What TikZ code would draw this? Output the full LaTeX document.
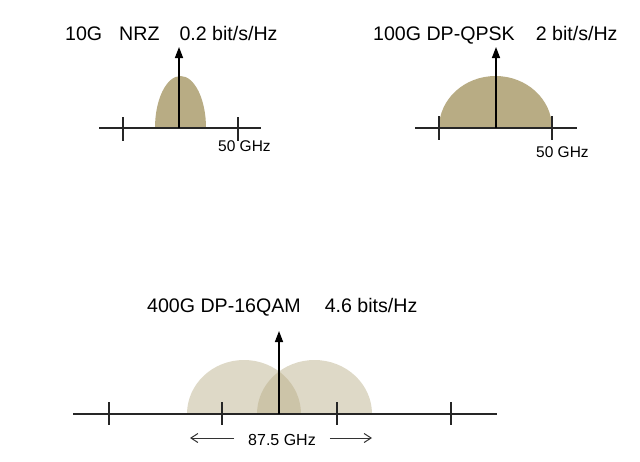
\documentclass[tikz,border=0pt]{standalone}
\usepackage{fontspec}
\setmainfont{Liberation Sans}
\usetikzlibrary{positioning,arrows.meta}
\definecolor{hump}{RGB}{184,172,132}

\begin{document}
\begin{tikzpicture}[x=1pt,y=-1pt,
  axis/.style={draw=black!85, line width=1.1pt},
  carrier/.style={draw=black, line width=1.4pt, -{Triangle[width=8pt,length=11pt]}},
  title/.style={font=\fontsize{19.6}{23}\selectfont, inner sep=0pt, anchor=base west},
  freq/.style={font=\fontsize{15.5}{18}\selectfont, inner sep=0pt, anchor=base west},
  band/.style={fill=hump, draw=none},
  spread/.style={draw=black!80, line width=1pt, -{Straight Barb[length=7pt,width=9pt]}}]

\useasboundingbox[fill=white] (0,0) rectangle (640,461);

% 10G NRZ
\fill[band] (155,128) arc[start angle=180, end angle=360, x radius=25.5, y radius=52];
\coordinate (a1l) at (99,128);
\coordinate (a1r) at (261,128);
\draw[axis] (a1l) -- (a1r);
\draw[axis] (123,117) -- (123,141);
\draw[axis] (238,117) -- (238,141);
\coordinate (c1b) at (179,128);
\coordinate (c1t) at (179,47);
\draw[carrier] (c1b) -- (c1t);
\node[title] (t10) at (65,40) {10G\hspace{17pt}NRZ\hspace{20pt}0.2 bit/s/Hz};
\node[freq] (f10) at (218,151) {50 GHz};

% 100G DP-QPSK
\fill[band] (439,128) arc[start angle=180, end angle=360, x radius=56.5, y radius=52];
\coordinate (a2l) at (415,128);
\coordinate (a2r) at (577,128);
\draw[axis] (a2l) -- (a2r);
\draw[axis] (439,116) -- (439,140);
\draw[axis] (552,116) -- (552,140);
\coordinate (c2b) at (496,128);
\coordinate (c2t) at (496,47);
\draw[carrier] (c2b) -- (c2t);
\node[title] (t100) at (373,40) {100G DP-QPSK\hspace{21pt}2 bit/s/Hz};
\node[freq] (f100) at (536,157) {50 GHz};

% 400G DP-16QAM
\begin{scope}[fill opacity=0.45]
\fill[band] (187,414) arc[start angle=180, end angle=360, x radius=57, y radius=54];
\fill[band] (257,414) arc[start angle=180, end angle=360, x radius=57.5, y radius=54];
\end{scope}
\coordinate (a3l) at (73,414);
\coordinate (a3r) at (497,414);
\draw[axis] (a3l) -- (a3r);
\foreach \tx in {109,222,337,451}
  \draw[axis] (\tx,402) -- (\tx,425);
\coordinate (c3b) at (279,414);
\coordinate (c3t) at (279,331);
\draw[carrier] (c3b) -- (c3t);
\node[title] (t400) at (147,312) {400G DP-16QAM\hspace{24pt}4.6 bits/Hz};
\node[freq, font=\fontsize{16}{19}\selectfont, anchor=base] (f400) at (282,445) {87.5 GHz};
\coordinate (s3l) at (190,438);
\coordinate (s3r) at (372,438);
\draw[spread] (f400.west) ++(-14pt,0) coordinate (s3a) (s3a |- s3l) -- (s3l);
\draw[spread] (f400.east) ++(14pt,0) coordinate (s3b) (s3b |- s3r) -- (s3r);

\end{tikzpicture}
\end{document}
